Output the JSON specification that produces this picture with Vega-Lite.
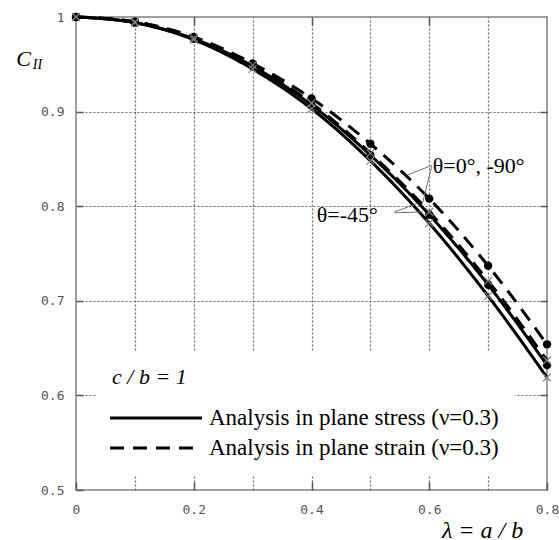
{
  "$schema": "https://vega.github.io/schema/vega-lite/v6.json",
  "width": 471,
  "height": 473,
  "autosize": "none",
  "padding": {"left": 76, "top": 17, "right": 12, "bottom": 50},
  "background": "white",
  "config": {
    "view": {"stroke": "#808080", "strokeWidth": 1.5},
    "axis": {
      "labelFont": "DejaVu Sans Mono",
      "labelFontSize": 13,
      "labelColor": "#555555",
      "tickColor": "#555555",
      "tickWidth": 1.5,
      "domain": false,
      "grid": false
    }
  },
  "datasets": {
    "curves": [
      {"lam": 0.0, "C": 1.0, "theta": "0", "analysis": "Analysis in plane strain (ν=0.3)", "series": "A"},
      {"lam": 0.1, "C": 0.995, "theta": "0", "analysis": "Analysis in plane strain (ν=0.3)", "series": "A"},
      {"lam": 0.2, "C": 0.979, "theta": "0", "analysis": "Analysis in plane strain (ν=0.3)", "series": "A"},
      {"lam": 0.3, "C": 0.951, "theta": "0", "analysis": "Analysis in plane strain (ν=0.3)", "series": "A"},
      {"lam": 0.4, "C": 0.914, "theta": "0", "analysis": "Analysis in plane strain (ν=0.3)", "series": "A"},
      {"lam": 0.5, "C": 0.866, "theta": "0", "analysis": "Analysis in plane strain (ν=0.3)", "series": "A"},
      {"lam": 0.6, "C": 0.808, "theta": "0", "analysis": "Analysis in plane strain (ν=0.3)", "series": "A"},
      {"lam": 0.7, "C": 0.737, "theta": "0", "analysis": "Analysis in plane strain (ν=0.3)", "series": "A"},
      {"lam": 0.8, "C": 0.654, "theta": "0", "analysis": "Analysis in plane strain (ν=0.3)", "series": "A"},
      {"lam": 0.0, "C": 1.0, "theta": "-45", "analysis": "Analysis in plane strain (ν=0.3)", "series": "B"},
      {"lam": 0.1, "C": 0.995, "theta": "-45", "analysis": "Analysis in plane strain (ν=0.3)", "series": "B"},
      {"lam": 0.2, "C": 0.978, "theta": "-45", "analysis": "Analysis in plane strain (ν=0.3)", "series": "B"},
      {"lam": 0.3, "C": 0.949, "theta": "-45", "analysis": "Analysis in plane strain (ν=0.3)", "series": "B"},
      {"lam": 0.4, "C": 0.909, "theta": "-45", "analysis": "Analysis in plane strain (ν=0.3)", "series": "B"},
      {"lam": 0.5, "C": 0.856, "theta": "-45", "analysis": "Analysis in plane strain (ν=0.3)", "series": "B"},
      {"lam": 0.6, "C": 0.794, "theta": "-45", "analysis": "Analysis in plane strain (ν=0.3)", "series": "B"},
      {"lam": 0.7, "C": 0.721, "theta": "-45", "analysis": "Analysis in plane strain (ν=0.3)", "series": "B"},
      {"lam": 0.8, "C": 0.637, "theta": "-45", "analysis": "Analysis in plane strain (ν=0.3)", "series": "B"},
      {"lam": 0.0, "C": 1.0, "theta": "0", "analysis": "Analysis in plane stress (ν=0.3)", "series": "C"},
      {"lam": 0.1, "C": 0.994, "theta": "0", "analysis": "Analysis in plane stress (ν=0.3)", "series": "C"},
      {"lam": 0.2, "C": 0.977, "theta": "0", "analysis": "Analysis in plane stress (ν=0.3)", "series": "C"},
      {"lam": 0.3, "C": 0.948, "theta": "0", "analysis": "Analysis in plane stress (ν=0.3)", "series": "C"},
      {"lam": 0.4, "C": 0.907, "theta": "0", "analysis": "Analysis in plane stress (ν=0.3)", "series": "C"},
      {"lam": 0.5, "C": 0.854, "theta": "0", "analysis": "Analysis in plane stress (ν=0.3)", "series": "C"},
      {"lam": 0.6, "C": 0.791, "theta": "0", "analysis": "Analysis in plane stress (ν=0.3)", "series": "C"},
      {"lam": 0.7, "C": 0.717, "theta": "0", "analysis": "Analysis in plane stress (ν=0.3)", "series": "C"},
      {"lam": 0.8, "C": 0.632, "theta": "0", "analysis": "Analysis in plane stress (ν=0.3)", "series": "C"},
      {"lam": 0.0, "C": 1.0, "theta": "-45", "analysis": "Analysis in plane stress (ν=0.3)", "series": "D"},
      {"lam": 0.1, "C": 0.994, "theta": "-45", "analysis": "Analysis in plane stress (ν=0.3)", "series": "D"},
      {"lam": 0.2, "C": 0.976, "theta": "-45", "analysis": "Analysis in plane stress (ν=0.3)", "series": "D"},
      {"lam": 0.3, "C": 0.945, "theta": "-45", "analysis": "Analysis in plane stress (ν=0.3)", "series": "D"},
      {"lam": 0.4, "C": 0.903, "theta": "-45", "analysis": "Analysis in plane stress (ν=0.3)", "series": "D"},
      {"lam": 0.5, "C": 0.848, "theta": "-45", "analysis": "Analysis in plane stress (ν=0.3)", "series": "D"},
      {"lam": 0.6, "C": 0.782, "theta": "-45", "analysis": "Analysis in plane stress (ν=0.3)", "series": "D"},
      {"lam": 0.7, "C": 0.705, "theta": "-45", "analysis": "Analysis in plane stress (ν=0.3)", "series": "D"},
      {"lam": 0.8, "C": 0.619, "theta": "-45", "analysis": "Analysis in plane stress (ν=0.3)", "series": "D"}
    ],
    "leaders": [
      {"x": 0.604, "y": 0.843, "x2": 0.563, "y2": 0.833},
      {"x": 0.604, "y": 0.842, "x2": 0.589, "y2": 0.804},
      {"x": 0.541, "y": 0.794, "x2": 0.580, "y2": 0.803},
      {"x": 0.541, "y": 0.793, "x2": 0.589, "y2": 0.794}
    ],
    "notes": [
      {"x": 0.606, "y": 0.835, "label": "θ=0°, -90°"},
      {"x": 0.409, "y": 0.783, "label": "θ=-45°"}
    ]
  },
  "resolve": {"axis": {"x": "independent", "y": "independent"}},
  "layer": [
    {
      "data": {"name": "curves"},
      "mark": {"type": "line", "color": "black", "strokeWidth": 3, "interpolate": "monotone"},
      "encoding": {
        "x": {
          "field": "lam", "type": "quantitative",
          "scale": {"domain": [0, 0.8], "nice": false, "zero": false},
          "axis": {
            "orient": "bottom",
            "values": [0, 0.2, 0.4, 0.6, 0.8],
            "tickSize": -8,
            "labelPadding": 21,
            "labelFlush": false,
            "labelExpr": "datum.value == 0 ? '0' : format(datum.value, '.1f')",
            "title": "λ = a / b",
            "titleFont": "Liberation Serif",
            "titleFontStyle": "italic",
            "titleFontWeight": "normal",
            "titleFontSize": 24,
            "titleColor": "black",
            "titleX": 406,
            "titleY": 47,
            "titleAlign": "center",
            "titleBaseline": "alphabetic"
          }
        },
        "y": {
          "field": "C", "type": "quantitative",
          "scale": {"domain": [0.5, 1], "nice": false, "zero": false},
          "axis": {
            "orient": "left",
            "values": [0.5, 0.6, 0.7, 0.8, 0.9, 1],
            "tickSize": -7,
            "labelPadding": 19,
            "labelExpr": "datum.value == 1 ? '1' : format(datum.value, '.1f')",
            "title": "C",
            "titleFont": "Liberation Serif",
            "titleFontStyle": "italic",
            "titleFontWeight": "normal",
            "titleFontSize": 22,
            "titleColor": "black",
            "titleAngle": 0,
            "titleX": -53,
            "titleY": 48,
            "titleAlign": "center",
            "titleBaseline": "alphabetic"
          }
        },
        "strokeDash": {
          "field": "analysis", "type": "nominal",
          "scale": {
            "domain": ["Analysis in plane stress (ν=0.3)", "Analysis in plane strain (ν=0.3)"],
            "range": [[1, 0], [14, 9]]
          },
          "legend": {
            "orient": "none",
            "legendX": 20,
            "legendY": 334,
            "title": "c / b = 1",
            "titleFont": "Liberation Serif",
            "titleFontStyle": "italic",
            "titleFontWeight": "normal",
            "titleFontSize": 22,
            "titleColor": "black",
            "titlePadding": 16,
            "labelFont": "Liberation Serif",
            "labelFontSize": 23,
            "labelColor": "black",
            "labelLimit": 0,
            "labelOffset": 86,
            "symbolType": "M0,0H8",
            "symbolSize": 529,
            "symbolOffset": -15,
            "symbolStrokeWidth": 3,
            "symbolStrokeColor": "black",
            "rowPadding": 5,
            "padding": 16,
            "fillColor": "white"
          }
        },
        "detail": {"field": "series"}
      }
    },
    {
      "data": {"name": "curves"},
      "transform": [{"filter": "datum.theta == '0'"}],
      "mark": {"type": "point", "shape": "circle", "filled": true, "color": "black", "size": 70, "opacity": 1},
      "encoding": {
        "x": {
          "field": "lam", "type": "quantitative",
          "axis": {
            "orient": "top",
            "values": [0.1, 0.2, 0.3, 0.4, 0.5, 0.6, 0.7],
            "grid": true,
            "gridDash": [2, 2],
            "gridColor": "#666666",
            "gridWidth": 1.2,
            "labels": false,
            "tickSize": -8,
            "tickOpacity": {"condition": {"test": "round(datum.value * 10) % 2 == 0", "value": 1}, "value": 0},
            "title": null
          }
        },
        "y": {
          "field": "C", "type": "quantitative",
          "axis": {
            "orient": "right",
            "values": [0.6, 0.7, 0.8, 0.9],
            "grid": true,
            "gridDash": [2, 2],
            "gridColor": "#666666",
            "gridWidth": 1.2,
            "labels": false,
            "tickSize": -7,
            "title": "II",
            "titleFont": "Liberation Serif",
            "titleFontStyle": "italic",
            "titleFontWeight": "normal",
            "titleFontSize": 14,
            "titleColor": "black",
            "titleAngle": 0,
            "titleX": -510,
            "titleY": 51,
            "titleAlign": "center",
            "titleBaseline": "alphabetic"
          }
        }
      }
    },
    {
      "data": {"name": "curves"},
      "transform": [{"filter": "datum.theta == '-45'"}],
      "mark": {"type": "point", "shape": "M-1,-1L1,1M-1,1L1,-1", "filled": false, "color": "#808080", "strokeWidth": 1.2, "size": 60, "opacity": 1},
      "encoding": {
        "x": {"field": "lam", "type": "quantitative", "axis": null},
        "y": {"field": "C", "type": "quantitative", "axis": null}
      }
    },
    {
      "data": {"name": "leaders"},
      "mark": {"type": "rule", "color": "#707070", "strokeWidth": 1},
      "encoding": {
        "x": {"field": "x", "type": "quantitative", "axis": null},
        "y": {"field": "y", "type": "quantitative", "axis": null},
        "x2": {"field": "x2"},
        "y2": {"field": "y2"}
      }
    },
    {
      "data": {"name": "notes"},
      "mark": {"type": "text", "font": "Liberation Serif", "fontSize": 22, "align": "left", "baseline": "alphabetic", "color": "black"},
      "encoding": {
        "x": {"field": "x", "type": "quantitative", "axis": null},
        "y": {"field": "y", "type": "quantitative", "axis": null},
        "text": {"field": "label"}
      }
    }
  ]
}
